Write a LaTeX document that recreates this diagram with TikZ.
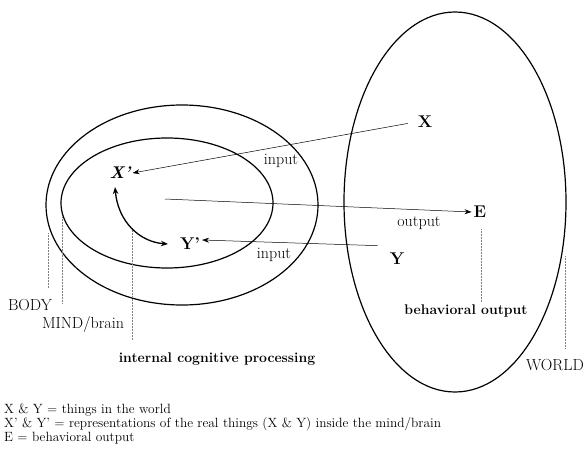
\documentclass[tikz,border=0pt]{standalone}
\usetikzlibrary{arrows.meta}
\begin{document}
\begin{tikzpicture}[x=1pt,y=-1pt,
  ring/.style={line width=1.2pt},
  guide/.style={densely dotted, gray, line width=0.5pt},
  arr/.style={-{Stealth[length=7pt,width=5pt]}, line width=0.5pt},
  dbl/.style={{Stealth[length=7pt,width=5.5pt]}-{Stealth[length=7pt,width=5.5pt]}, line width=1.3pt},
  big/.style={font=\fontsize{17}{20}\selectfont\bfseries, inner sep=2pt},
  lab/.style={font=\fontsize{16}{19}\selectfont, inner sep=0pt},
  blab/.style={font=\fontsize{14}{17}\selectfont\bfseries, inner sep=0pt},
  legend/.style={font=\fontsize{13.4}{14}\selectfont, inner sep=0pt, anchor=base west}]
\useasboundingbox (0,0) rectangle (586,455);
% ellipses
\draw[ring] (182,205) ellipse [x radius=136pt, y radius=100pt];
\draw[ring] (167,203) ellipse [x radius=106pt, y radius=65pt];
\draw[ring] (455,202) ellipse [x radius=111pt, y radius=190pt];
% guide lines
\draw[guide] (48,233) -- (48,288);
\draw[guide] (62,217) -- (62,303);
\draw[guide] (132,228) -- (132,340);
\draw[guide] (481,229) -- (481,302);
\draw[guide] (565,256) -- (565,348);
% main nodes
\node[big] (X) at (425,122) {X};
\node[big] (E) at (480,212) {E};
\node[big] (Y) at (397,259) {Y};
\node[big, font=\fontsize{17}{20}\selectfont\bfseries\itshape] (Xp) at (120,173) {X’};
\node[big] (Yp) at (190,244) {Y’};
\coordinate (o) at (165,199);
% connectors
\draw[arr, shorten <=8pt] (X.west) -- (Xp.east);
\draw[arr] (o) -- (E.west);
\draw[arr, shorten <=10pt] ([yshift=5pt]Y.north west) -- ([yshift=4pt]Yp.east);
\draw[dbl] ([xshift=-5pt,yshift=-6pt]Xp.south) .. controls (118,222) and (140,242) .. ([xshift=-10pt]Yp.west);
% labels
\node[lab] (in1) at (281,161) {input};
\node[lab] (in2) at (274,255) {input};
\node[lab] (out) at (419,223) {output};
\node[lab] (body) at (30,305) {BODY};
\node[lab] (mind) at (83,324) {MIND/brain};
\node[blab] (icp) at (217,359) {internal cognitive processing};
\node[blab] (bo) at (466,311) {behavioral output};
\node[lab] (world) at (555,365) {WORLD};
% legend
\node[legend] (l1) at (4,413) {X \& Y = things in the world};
\node[legend] (l2) at (4,427) {X’ \& Y’ = representations of the real things (X \& Y) inside the mind/brain};
\node[legend] (l3) at (4,441) {E = behavioral output};
\end{tikzpicture}
\end{document}
